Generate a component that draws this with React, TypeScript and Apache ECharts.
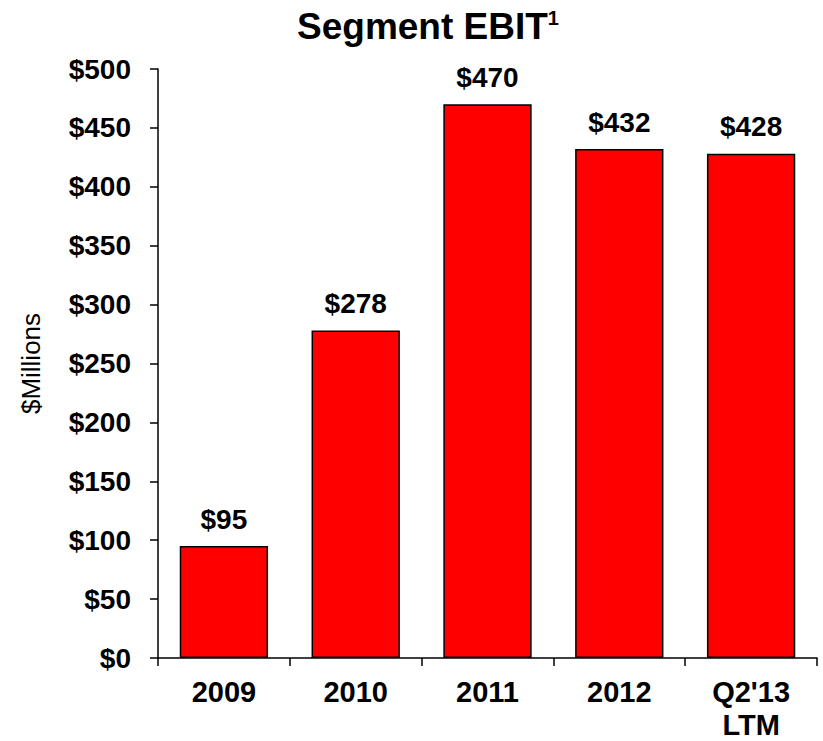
import React, { useEffect, useRef } from "react";
import * as echarts from "echarts";

const categories = ["2009", "2010", "2011", "2012", "Q2'13\nLTM"];
const values = [95, 278, 470, 432, 428];
const yTicks = { min: 0, max: 500, interval: 50 };

export default function App() {
  const ref = useRef<HTMLDivElement>(null);
  useEffect(() => {
    if (!ref.current) return;
    const chart = echarts.init(ref.current, null, { renderer: "svg" });
    const font = "'Liberation Sans', Arial, sans-serif";
    chart.setOption({
      animation: false,
      textStyle: { fontFamily: font },
      title: {
        text: "{t|Segment EBIT}{s|1}",
        left: 423,
        textAlign: "center",
        top: 3,
        textStyle: {
          rich: {
            t: { fontFamily: font, fontWeight: "bold", fontSize: 37, color: "#000" },
            s: { fontFamily: font, fontWeight: "bold", fontSize: 20, color: "#000", verticalAlign: "top", padding: [0, 0, 15, 0] },
          },
        },
      },
      grid: { left: 158, right: 6, top: 69, bottom: 83, containLabel: false },
      xAxis: {
        type: "category",
        data: categories,
        axisLine: { lineStyle: { color: "#000", width: 1.5 } },
        axisTick: { show: true, length: 8, lineStyle: { color: "#000", width: 1.5 } },
        axisLabel: { color: "#000", fontWeight: "bold", fontSize: 29, fontFamily: font, margin: 17, lineHeight: 33 },
      },
      yAxis: {
        type: "value",
        min: yTicks.min,
        max: yTicks.max,
        interval: yTicks.interval,
        name: "$Millions",
        nameLocation: "middle",
        nameGap: 114,
        nameRotate: 90,
        nameTextStyle: { color: "#000", fontSize: 26, fontFamily: font },
        splitLine: { show: false },
        axisLine: { show: true, lineStyle: { color: "#000", width: 1.5 } },
        axisTick: { show: true, length: 8, lineStyle: { color: "#000", width: 1.5 } },
        axisLabel: {
          color: "#000",
          fontWeight: "bold",
          fontSize: 28,
          fontFamily: font,
          margin: 27,
          formatter: (v: number) => "$" + v,
        },
      },
      series: [
        {
          type: "bar",
          data: values,
          barCategoryGap: "33%",
          itemStyle: { color: "#ff0000", borderColor: "#000", borderWidth: 1.5 },
          label: {
            show: true,
            position: "top",
            distance: 13,
            color: "#000",
            fontWeight: "bold",
            fontSize: 28,
            fontFamily: font,
            formatter: (p: any) => "$" + p.value,
          },
        },
      ],
    });
    return () => chart.dispose();
  }, []);
  return <div ref={ref} style={{ width: 823, height: 741, position: "absolute", left: 0, top: 0 }} />;
}
